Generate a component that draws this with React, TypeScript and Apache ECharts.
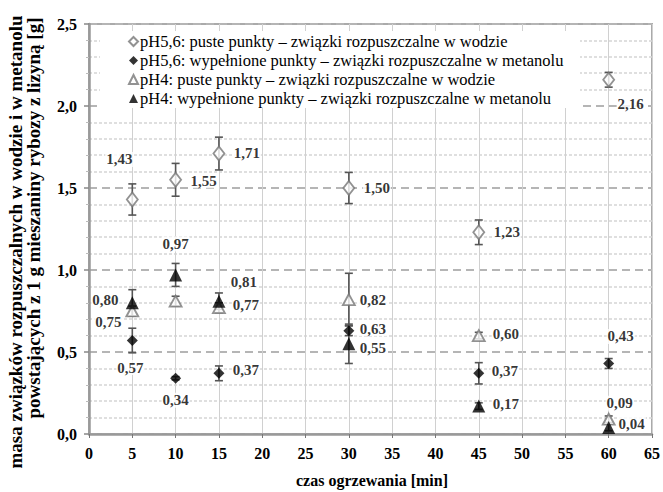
import React, { useEffect, useRef } from 'react';
import * as echarts from 'echarts';

const times = [5, 10, 15, 30, 45, 60];
const ph56Water = [1.43, 1.55, 1.71, 1.5, 1.23, 2.16];
const ph56WaterErr = [0.095, 0.1, 0.1, 0.095, 0.075, 0.045];
const ph56Methanol = [0.57, 0.34, 0.37, 0.63, 0.37, 0.43];
const ph56MethanolErr = [0.075, 0.01, 0.045, 0.03, 0.065, 0.03];
const ph4Water = [0.75, 0.81, 0.77, 0.82, 0.6, 0.09];
const ph4WaterErr = [0.03, 0.03, 0.03, 0.16, 0.02, 0.02];
const ph4Methanol = [0.8, 0.97, 0.81, 0.55, 0.17, 0.04];
const ph4MethanolErr = [0.08, 0.07, 0.05, 0.12, 0.02, 0.02];

const seriesNames = [
  'pH5,6: puste punkty – związki rozpuszczalne w wodzie',
  'pH5,6: wypełnione punkty – związki rozpuszczalne w metanolu',
  'pH4: puste punkty – związki rozpuszczalne w wodzie',
  'pH4: wypełnione punkty – związki rozpuszczalne w metanolu',
];
const yTitleLines = [
  'masa związków rozpuszczalnych w wodzie i w metanolu',
  'powstających z 1 g mieszaniny rybozy z lizyną [g]',
];
const xTitle = 'czas ogrzewania [min]';

// label offsets (layout only), null = no label
const labelOffsets: (number[] | null)[][] = [
  [[-13, -40], [28, 1], [28, -1], [28, 0], [28, 0], [22, 24]],
  [[-2, 27], [0, 22], [27, -3], [24, -2], [26, -2], [12, -27]],
  [[-24, 11], null, [27, -3], [24, 0], [27, -2], [11, -16]],
  [[-27, -3], [0, -31], [25, -19], [24, 4], [27, -2], [23, -3]],
];

const FONT = 'Liberation Serif';

export default function App() {
  const ref = useRef<HTMLDivElement>(null);
  useEffect(() => {
    if (!ref.current) return;
    const chart = echarts.init(ref.current, undefined, { renderer: 'svg' });
    const values = [ph56Water, ph56Methanol, ph4Water, ph4Methanol];
    const errs = [ph56WaterErr, ph56MethanolErr, ph4WaterErr, ph4MethanolErr];
    const symbols = ['diamond', 'diamond', 'triangle', 'triangle'];
    const sizes: any[] = [[11, 14], [11, 11], [12, 11], [13, 13]];
    const styles: any[] = [
      { color: '#fff', borderColor: '#777', borderWidth: 1.8 },
      { color: '#000', borderColor: '#000', borderWidth: 0 },
      { color: '#fff', borderColor: '#777', borderWidth: 1.8 },
      { color: '#000', borderColor: '#000', borderWidth: 0 },
    ];
    const series: any[] = [];
    values.forEach((vals, si) => {
      series.push({
        type: 'custom',
        z: 2,
        silent: true,
        renderItem: (params: any, api: any) => {
          const x = api.value(0);
          const lo = api.value(1);
          const hi = api.value(2);
          const pT = api.coord([x, hi]);
          const pB = api.coord([x, lo]);
          const w = 4;
          const st = { stroke: '#555', lineWidth: 1.6 };
          return {
            type: 'group',
            children: [
              { type: 'line', shape: { x1: pT[0], y1: pT[1], x2: pB[0], y2: pB[1] }, style: st },
              { type: 'line', shape: { x1: pT[0] - w, y1: pT[1], x2: pT[0] + w, y2: pT[1] }, style: st },
              { type: 'line', shape: { x1: pB[0] - w, y1: pB[1], x2: pB[0] + w, y2: pB[1] }, style: st },
            ],
          };
        },
        encode: { x: 0, y: [1, 2] },
        data: times.map((t, i) => [t, vals[i] - errs[si][i], vals[i] + errs[si][i]]),
      });
    });
    values.forEach((vals, si) => {
      series.push({
        type: 'scatter',
        name: seriesNames[si],
        z: 3,
        symbol: symbols[si],
        symbolSize: sizes[si],
        itemStyle: styles[si],
        label: {
          show: true,
          position: 'inside',
          formatter: (p: any) => p.value[1].toFixed(2).replace('.', ','),
          fontFamily: FONT,
          fontWeight: 'bold',
          fontSize: 15,
          color: '#000',
          backgroundColor: '#fff',
          padding: [0, 1],
        },
        data: times.map((t, i) => {
          const off = labelOffsets[si][i];
          return off
            ? { value: [t, vals[i]], label: { offset: off } }
            : { value: [t, vals[i]], label: { show: false } };
        }),
      });
    });

    const titleStyle = (text: string, size: number) => ({
      text,
      font: `bold ${size}px ${FONT}`,
      fontFamily: FONT,
      fontWeight: 'bold',
      fontSize: size,
      fill: '#000',
      textAlign: 'center',
      textVerticalAlign: 'middle',
      align: 'center',
      verticalAlign: 'middle',
    });

    chart.setOption({
      animation: false,
      backgroundColor: '#fff',
      grid: {
        left: 89,
        right: 3,
        top: 24,
        bottom: 58,
        show: true,
        borderColor: '#aaa',
        borderWidth: 2,
        backgroundColor: '#fff',
      },
      legend: {
        orient: 'vertical',
        left: 124,
        top: 29,
        itemWidth: 9,
        itemHeight: 9,
        itemGap: 2,
        padding: [4, 4, 4, 4],
        textStyle: { fontFamily: FONT, fontSize: 16.5, color: '#000', padding: [0, 0, 0, -3] },
        data: seriesNames,
      },
      xAxis: {
        type: 'value',
        min: 0,
        max: 65,
        interval: 5,
        axisLine: { show: true, onZero: false, lineStyle: { color: '#999', width: 2.5 } },
        axisTick: { show: true, length: 4, lineStyle: { color: '#777' } },
        axisLabel: { fontFamily: FONT, fontWeight: 'bold', fontSize: 16, color: '#000', margin: 11 },
        splitLine: { show: true, lineStyle: { color: '#d0d0d0', width: 1 } },
      },
      yAxis: {
        type: 'value',
        min: 0,
        max: 2.5,
        interval: 0.5,
        axisLine: { show: true, lineStyle: { color: '#999', width: 2.5 } },
        axisTick: { show: true, length: 5, lineStyle: { color: '#888', width: 1.5 } },
        minorTick: { show: true, splitNumber: 5, length: 3, lineStyle: { color: '#bbb' } },
        axisLabel: {
          fontFamily: FONT,
          fontWeight: 'bold',
          fontSize: 16,
          color: '#000',
          margin: 12,
          formatter: (v: number) => v.toFixed(1).replace('.', ','),
        },
        splitLine: { show: true, lineStyle: { color: '#b5b5b5', width: 2, type: [8, 5] } },
        minorSplitLine: { show: true, lineStyle: { color: '#d5d5d5', width: 1.5, type: [3, 2] } },
      },
      graphic: [
        {
          type: 'rect',
          z: 1,
          silent: true,
          shape: { x: 100, y: 31, width: 480, height: 77 },
          style: { fill: '#fff' },
        },
        { type: 'text', x: 15, y: 242, rotation: Math.PI / 2, style: titleStyle(yTitleLines[0], 19) },
        { type: 'text', x: 33, y: 218, rotation: Math.PI / 2, style: titleStyle(yTitleLines[1], 19) },
        { type: 'text', x: 372, y: 480, style: titleStyle(xTitle, 16) },
      ],
      series,
    });
    return () => chart.dispose();
  }, []);
  return (
    <div
      ref={ref}
      style={{ position: 'absolute', left: 0, top: 0, width: 663, height: 492 }}
    />
  );
}
